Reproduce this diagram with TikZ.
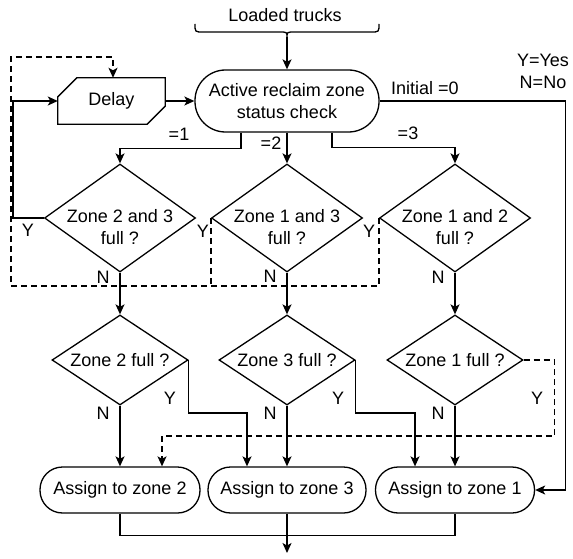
\documentclass[tikz,border=0pt]{standalone}
\usepackage{fontspec}
\setmainfont{Liberation Sans}
\usetikzlibrary{arrows.meta,shapes.geometric}
\begin{document}
\begin{tikzpicture}[x=1pt,y=-1pt,
  every node/.style={font=\fontsize{18}{22}\selectfont},
  ln/.style={line width=1.3pt, draw=black},
  tip/.style={-{Stealth[length=10pt,width=9pt,inset=2.5pt]}},
  arr/.style={ln, tip},
  dsh/.style={ln, dash pattern=on 6pt off 4pt},
  term/.style={draw, line width=1.3pt, rounded corners=#1, align=center, inner sep=2pt},
  dia/.style 2 args={draw, line width=1.3pt, diamond, inner sep=0pt, minimum width=#1, minimum height=#2},
  dtext/.style={align=center, inner sep=0pt},
  lab/.style={inner sep=0pt}
]
\useasboundingbox (0,0) rectangle (573,559);

% input
\node[lab] (load) at (285,15) {Loaded trucks};
\draw[ln] (195,24) .. controls (195,32) .. (203,32) -- (279,32)
  .. controls (287,32) .. (287,37) .. controls (287,32) .. (295,32)
  -- (371,32) .. controls (379,32) .. (379,24);
\coordinate (bt) at (287,37);

% main nodes
\node[term=30.5pt, minimum width=184pt, minimum height=62pt] (act) at (287,101) {Active reclaim zone\\status check};
\node[inner sep=0pt, minimum width=107pt, minimum height=46pt] (delay) at (111.5,101) {Delay};
\draw[ln] ([yshift=-19pt]delay.north west) -- ([xshift=19pt]delay.north west)
  -- (delay.north east) -- ([yshift=18pt]delay.south east)
  -- ([xshift=-18pt]delay.south east) -- (delay.south west) -- cycle;

\node[dia={151pt}{108pt}, label={[dtext,yshift=-9pt]center:Zone 2 and 3\\full ?}] (d1) at (120,218) {};
\node[dia={151pt}{108pt}, label={[dtext,yshift=-9pt]center:Zone 1 and 3\\full ?}] (d2) at (287,218) {};
\node[dia={151pt}{108pt}, label={[dtext,yshift=-9pt]center:Zone 1 and 2\\full ?}] (d3) at (455,218) {};

\node[dia={136pt}{90pt}, label={[dtext]center:Zone 2 full ?}] (e1) at (120,360) {};
\node[dia={136pt}{90pt}, label={[dtext]center:Zone 3 full ?}] (e2) at (287,360) {};
\node[dia={136pt}{90pt}, label={[dtext]center:Zone 1 full ?}] (e3) at (455,360) {};

\node[term=22.5pt, minimum width=160pt, minimum height=46pt] (a2) at (120,490) {Assign to zone 2};
\node[term=22.5pt, minimum width=158pt, minimum height=46pt] (a3) at (287,490) {Assign to zone 3};
\node[term=22.5pt, minimum width=159pt, minimum height=46pt] (a1) at (455,490) {Assign to zone 1};

% legend and labels
\node[lab] (ly) at (543,60) {Y=Yes};
\node[lab] (ln) at (543,82) {N=No};
\node[lab] (init) at (425,88) {Initial =0};
\node[lab] (c1) at (179,134) {=1};
\node[lab] (c2) at (271,143) {=2};
\node[lab] (c3) at (408,133) {=3};
\node[lab] (y1) at (28,230) {Y};
\node[lab] (y2) at (203,231) {Y};
\node[lab] (y3) at (369,231) {Y};
\node[lab] (n1) at (103,277) {N};
\node[lab] (n2) at (270,276) {N};
\node[lab] (n3) at (438,277) {N};
\node[lab] (n4) at (103,413) {N};
\node[lab] (n5) at (270,413) {N};
\node[lab] (n6) at (438,413) {N};
\node[lab] (y4) at (170,398) {Y};
\node[lab] (y5) at (338,398) {Y};
\node[lab] (y6) at (537,398) {Y};

% connectors
\draw[arr] (bt) -- (act.north);
\draw[arr] (delay.east) -- (act.west);
\draw[arr] (d1.west) -- ++(-31,0) |- (delay.west);
\draw[arr] ([xshift=-46pt]act.south) -- ++(0,16) -| (d1.north);
\draw[arr] (act.south) -- (d2.north);
\draw[arr] ([xshift=45pt]act.south) -- ++(0,15) -| (d3.north);
\draw[arr] (act.east) -- ++(186,0) |- (a1.east);

\draw[dsh, tip] (d3.west) -- ++(0,68) -- ++(-368,0) -- ++(0,-229) -| ([xshift=1.5pt]delay.north);
\draw[dsh] (d2.west) -- ++(0,68);

\draw[arr] (d1.south) -- (e1.north);
\draw[arr] (d2.south) -- (e2.north);
\draw[arr] (d3.south) -- (e3.north);

\draw[arr] (e1.south) -- (a2.north);
\draw[arr] (e1.east) -- ++(0,53) -| ([xshift=-40pt]a3.north);
\draw[arr] (e2.south) -- (a3.north);
\draw[arr] (e2.east) -- ++(0,53) -| ([xshift=-40pt]a1.north);
\draw[arr] (e3.south) -- (a1.north);
\draw[dsh, tip] (e3.east) -- ++(31,0) -- ++(0,76) -| ([xshift=42pt]a2.north);

\draw[ln] (a2.south) -- ++(0,22) -| (a1.south);
\coordinate (out) at (287,553);
\draw[arr] (a3.south) -- (out);
\end{tikzpicture}
\end{document}
